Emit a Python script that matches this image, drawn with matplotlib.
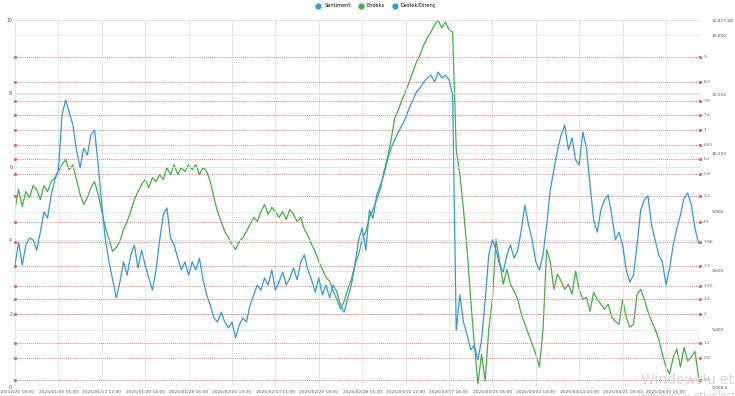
import numpy as np
import matplotlib.pyplot as plt
from matplotlib.lines import Line2D

# Tick labels on the category (time) axis, one every 12 samples
date_labels = ["2024/12/25 18:00", "2025/01/03 15:00", "2025/01/13 12:00", "2025/01/20 18:05",
               "2025/01/28 16:00", "2025/02/05 13:00", "2025/02/13 11:00", "2025/02/20 18:00",
               "2025/02/28 15:00", "2025/03/10 12:00", "2025/03/17 16:05", "2025/03/25 16:00",
               "2025/04/04 13:00", "2025/04/14 10:00", "2025/04/21 18:00", "2025/04/30 15:00"]

# Sentiment (left axis, 0-10)
sentiment = [3.32, 3.95, 3.32, 3.87, 4.06, 4.01, 3.73, 4.22, 4.77, 4.60, 5.23, 5.64,
             5.91, 7.41, 7.82, 7.49, 7.14, 6.46, 5.97, 6.51, 6.32, 6.87, 7.00, 6.05,
             4.96, 4.01, 3.41, 2.92, 2.43, 2.86, 3.41, 3.05, 3.60, 3.87, 3.24, 3.73,
             3.32, 2.97, 2.64, 3.19, 4.01, 4.69, 4.88, 4.06, 3.87, 3.51, 3.19, 3.41,
             3.05, 3.41, 3.19, 3.51, 2.92, 2.51, 2.23, 1.88, 1.77, 2.04, 1.77, 1.61,
             1.77, 1.34, 1.69, 1.88, 1.77, 2.23, 2.51, 2.78, 2.64, 2.97, 2.78, 3.19,
             2.64, 2.86, 3.13, 2.78, 2.97, 3.24, 2.92, 3.41, 3.60, 3.19, 2.92, 2.59,
             2.97, 2.51, 2.78, 2.43, 2.78, 2.59, 2.23, 2.04, 2.43, 2.78, 3.32, 4.01,
             4.33, 3.73, 4.82, 4.60, 5.23, 5.50, 5.78, 6.19, 6.51, 6.73, 6.95, 7.14,
             7.33, 7.60, 7.82, 8.04, 8.15, 8.31, 8.42, 8.50, 8.31, 8.58, 8.42, 8.50,
             8.37, 7.96, 1.55, 2.51, 1.77, 1.42, 1.01, 1.14, 0.74, 1.28, 2.37, 3.60,
             4.01, 3.73, 3.32, 3.13, 3.60, 3.87, 3.51, 3.73, 4.28, 4.96, 4.41, 4.01,
             3.41, 3.19, 3.60, 4.41, 5.37, 5.91, 6.46, 6.87, 7.14, 6.46, 6.79, 6.19,
             6.05, 6.95, 6.51, 5.50, 4.55, 4.22, 4.82, 5.10, 5.23, 4.69, 4.01, 4.22,
             3.87, 3.19, 2.86, 3.05, 3.87, 4.82, 5.10, 5.21, 4.41, 4.01, 3.60, 3.41,
             2.78, 3.24, 3.87, 4.33, 4.69, 5.15, 5.29, 4.96, 4.33, 3.92]

# Endeks (right axis)
endeks = [9918, 10014, 9928, 10004, 9973, 10034, 10014, 9963, 10034, 10004, 10055, 10075,
          10106, 10141, 10166, 10116, 10141, 10065, 9989, 9938, 9973, 10024, 10055, 9989,
          9902, 9821, 9760, 9699, 9719, 9750, 9811, 9852, 9902, 9963, 10004, 10040,
          10065, 10024, 10075, 10055, 10090, 10065, 10126, 10090, 10141, 10090, 10126, 10106,
          10141, 10116, 10141, 10090, 10126, 10106, 10055, 9973, 9902, 9852, 9801, 9770,
          9735, 9709, 9750, 9770, 9801, 9836, 9872, 9852, 9902, 9938, 9887, 9923,
          9902, 9872, 9902, 9862, 9913, 9887, 9852, 9872, 9811, 9780, 9735, 9699,
          9648, 9608, 9567, 9547, 9496, 9455, 9405, 9445, 9506, 9557, 9633, 9684,
          9760, 9801, 9872, 9913, 9963, 10014, 10106, 10177, 10268, 10380, 10420, 10471,
          10512, 10563, 10613, 10664, 10700, 10750, 10786, 10817, 10852, 10877, 10837, 10867,
          10827, 10817, 10217, 10090, 9913, 9709, 9455, 9227, 9024, 9176, 9039, 9303,
          9455, 9760, 9648, 9532, 9608, 9532, 9496, 9455, 9379, 9328, 9278, 9227,
          9176, 9110, 9303, 9709, 9648, 9506, 9583, 9547, 9506, 9532, 9481, 9598,
          9506, 9455, 9465, 9394, 9491, 9455, 9430, 9405, 9430, 9364, 9343, 9328,
          9455, 9364, 9313, 9328, 9481, 9506, 9455, 9394, 9343, 9303, 9252, 9176,
          9110, 9075, 9161, 9201, 9110, 9211, 9140, 9161, 9191, 9059]

# Support / resistance levels (left axis units) and their labels
levels = [9, 8.3, 7.8, 7.4, 7, 6.6, 6.2, 5.8, 5.2, 4.5, 3.95, 3.3, 2.75, 2.4, 2, 1.2, 0.8, 0.2]
level_labels = ["9", "8.3", "7.8", "7.4", "7", "6.65", "6.2", "5.8", "5.2", "4.5", "3.96",
                "3.3", "2.75", "2.4", "2", "1.2", "0.8", "0.2"]

right_ticks = [9008.6, 9300, 9600, 9900, 10200, 10500, 10800, 10877.68]
right_labels = ["9,008.6", "9,300", "9,600", "9,900", "10,200", "10,500", "10,800", "10,877.68"]

blue = "#3498db"
green = "#43b045"
red = "#e06666"

x = np.arange(len(sentiment))
fig = plt.figure(figsize=(7.35, 3.96), dpi=100)
ax = fig.add_axes([15 / 735, 1 - 387 / 396, 685 / 735, 367 / 396])
ax2 = ax.twinx()

ax.set_xlim(0, 189.4)
ax.set_ylim(0, 10)
ax2.set_ylim(9008.6, 10877.68)

# grid
ax.set_xticks(np.arange(0, len(sentiment), 12))
ax.set_xticklabels(date_labels, fontsize=3.2, color="#555555")
ax.set_yticks([0, 2, 4, 6, 8, 10])
ax.set_yticklabels(["0", "2", "4", "6", "8", "10"], fontsize=3.4, color="#555555")
ax.grid(True, color="#e3e3e3", linewidth=0.6)
ax.set_axisbelow(True)
for t in right_ticks:
    ax2.axhline(t, color="#e3e3e3", linewidth=0.6, zorder=0)
ax2.set_yticks(right_ticks)
ax2.set_yticklabels(right_labels, fontsize=3.2, color="#555555")

for a in (ax, ax2):
    for s in a.spines.values():
        s.set_visible(False)
    a.tick_params(length=0, pad=2)
ax2.tick_params(axis="y", pad=8.5)

# support / resistance lines
for lv, lab in zip(levels, level_labels):
    ax.axhline(lv, color=red, linewidth=0.7, linestyle=(0, (1, 1)), alpha=0.8, zorder=1)
    ax.plot([0, 189.4], [lv, lv], "o", color=red, markersize=1.3, clip_on=False, zorder=2)
    ax.text(190.3, lv, lab, fontsize=3.2, color="#666666", va="center", ha="left")

ax2.plot(x, endeks, color=green, linewidth=0.9, zorder=3)
ax.plot(x, sentiment, color=blue, linewidth=0.9, zorder=4)
ax.set_zorder(ax2.get_zorder() + 1)
ax.patch.set_visible(False)

handles = [Line2D([], [], marker="o", linestyle="none", color=blue, markersize=3.5),
           Line2D([], [], marker="o", linestyle="none", color=green, markersize=3.5),
           Line2D([], [], marker="o", linestyle="none", color=blue, markersize=3.5)]
fig.legend(handles, ["Sentiment", "Endeks", "Destek/Direnç"], loc="center",
           bbox_to_anchor=(0.51, 0.985), ncol=3, frameon=False, fontsize=3.6,
           handletextpad=0.2, columnspacing=1.0)

# OS activation watermark visible in the screenshot
fig.text(0.872, 0.03, "Windows'u etkinleştir", fontsize=10, color="#c4c4c4", alpha=0.7)
fig.text(0.868, -0.008, "Windows'u etkinleştirmek için", fontsize=7, color="#c4c4c4", alpha=0.7)

fig.savefig("out.png", dpi=100)
